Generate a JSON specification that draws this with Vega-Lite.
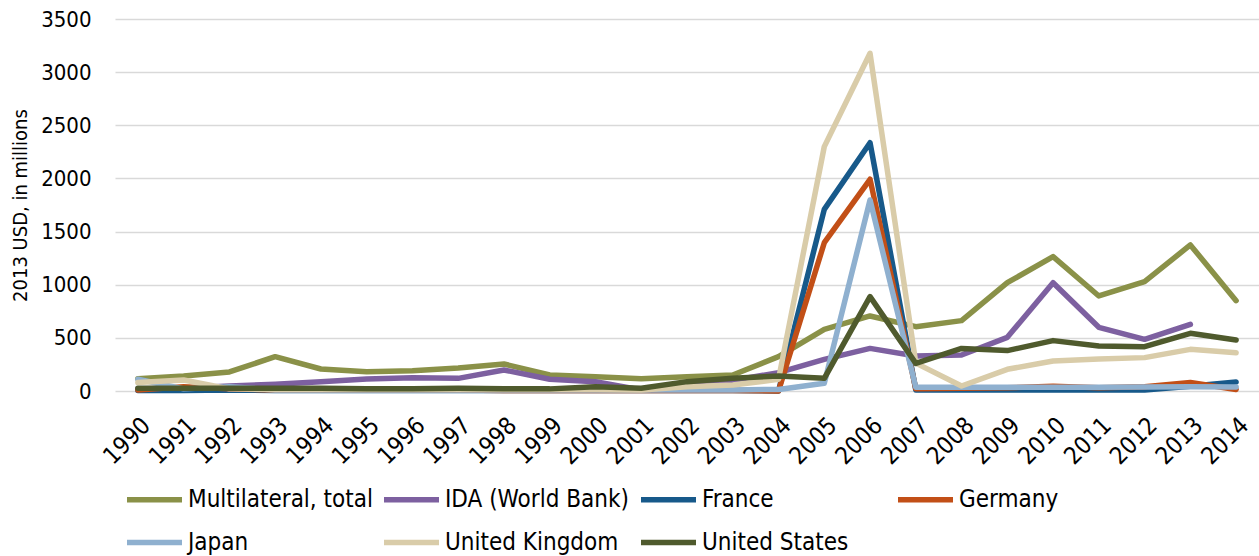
{
  "$schema": "https://vega.github.io/schema/vega-lite/v6.json",
  "autosize": "none",
  "width": 1144,
  "height": 372,
  "padding": {"left": 115, "top": 19, "right": 0, "bottom": 165},
  "background": "white",
  "config": {
    "view": {"stroke": null},
    "font": "DejaVu Sans Condensed"
  },
  "datasets": {
    "aid": [
      {"year": "1990", "series": "Multilateral, total", "value": 116},
      {"year": "1991", "series": "Multilateral, total", "value": 141},
      {"year": "1992", "series": "Multilateral, total", "value": 179},
      {"year": "1993", "series": "Multilateral, total", "value": 323},
      {"year": "1994", "series": "Multilateral, total", "value": 207},
      {"year": "1995", "series": "Multilateral, total", "value": 182},
      {"year": "1996", "series": "Multilateral, total", "value": 191},
      {"year": "1997", "series": "Multilateral, total", "value": 216},
      {"year": "1998", "series": "Multilateral, total", "value": 254},
      {"year": "1999", "series": "Multilateral, total", "value": 151},
      {"year": "2000", "series": "Multilateral, total", "value": 135},
      {"year": "2001", "series": "Multilateral, total", "value": 116},
      {"year": "2002", "series": "Multilateral, total", "value": 135},
      {"year": "2003", "series": "Multilateral, total", "value": 151},
      {"year": "2004", "series": "Multilateral, total", "value": 323},
      {"year": "2005", "series": "Multilateral, total", "value": 580},
      {"year": "2006", "series": "Multilateral, total", "value": 706},
      {"year": "2007", "series": "Multilateral, total", "value": 605},
      {"year": "2008", "series": "Multilateral, total", "value": 662},
      {"year": "2009", "series": "Multilateral, total", "value": 1019},
      {"year": "2010", "series": "Multilateral, total", "value": 1264},
      {"year": "2011", "series": "Multilateral, total", "value": 894},
      {"year": "2012", "series": "Multilateral, total", "value": 1029},
      {"year": "2013", "series": "Multilateral, total", "value": 1374},
      {"year": "2014", "series": "Multilateral, total", "value": 850},

      {"year": "1990", "series": "IDA (World Bank)", "value": 20},
      {"year": "1991", "series": "IDA (World Bank)", "value": 25},
      {"year": "1992", "series": "IDA (World Bank)", "value": 47},
      {"year": "1993", "series": "IDA (World Bank)", "value": 63},
      {"year": "1994", "series": "IDA (World Bank)", "value": 88},
      {"year": "1995", "series": "IDA (World Bank)", "value": 113},
      {"year": "1996", "series": "IDA (World Bank)", "value": 125},
      {"year": "1997", "series": "IDA (World Bank)", "value": 119},
      {"year": "1998", "series": "IDA (World Bank)", "value": 198},
      {"year": "1999", "series": "IDA (World Bank)", "value": 110},
      {"year": "2000", "series": "IDA (World Bank)", "value": 88},
      {"year": "2001", "series": "IDA (World Bank)", "value": 10},
      {"year": "2002", "series": "IDA (World Bank)", "value": 50},
      {"year": "2003", "series": "IDA (World Bank)", "value": 100},
      {"year": "2004", "series": "IDA (World Bank)", "value": 172},
      {"year": "2005", "series": "IDA (World Bank)", "value": 298},
      {"year": "2006", "series": "IDA (World Bank)", "value": 401},
      {"year": "2007", "series": "IDA (World Bank)", "value": 329},
      {"year": "2008", "series": "IDA (World Bank)", "value": 339},
      {"year": "2009", "series": "IDA (World Bank)", "value": 505},
      {"year": "2010", "series": "IDA (World Bank)", "value": 1019},
      {"year": "2011", "series": "IDA (World Bank)", "value": 599},
      {"year": "2012", "series": "IDA (World Bank)", "value": 486},
      {"year": "2013", "series": "IDA (World Bank)", "value": 627},

      {"year": "1990", "series": "France", "value": 5},
      {"year": "1991", "series": "France", "value": 5},
      {"year": "1992", "series": "France", "value": 10},
      {"year": "1993", "series": "France", "value": 5},
      {"year": "1994", "series": "France", "value": 5},
      {"year": "1995", "series": "France", "value": 5},
      {"year": "1996", "series": "France", "value": 5},
      {"year": "1997", "series": "France", "value": 5},
      {"year": "1998", "series": "France", "value": 5},
      {"year": "1999", "series": "France", "value": 5},
      {"year": "2000", "series": "France", "value": 5},
      {"year": "2001", "series": "France", "value": 5},
      {"year": "2002", "series": "France", "value": 5},
      {"year": "2003", "series": "France", "value": 5},
      {"year": "2004", "series": "France", "value": 0},
      {"year": "2005", "series": "France", "value": 1709},
      {"year": "2006", "series": "France", "value": 2336},
      {"year": "2007", "series": "France", "value": 10},
      {"year": "2008", "series": "France", "value": 10},
      {"year": "2009", "series": "France", "value": 10},
      {"year": "2010", "series": "France", "value": 10},
      {"year": "2011", "series": "France", "value": 10},
      {"year": "2012", "series": "France", "value": 10},
      {"year": "2013", "series": "France", "value": 45},
      {"year": "2014", "series": "France", "value": 85},

      {"year": "1990", "series": "Germany", "value": 10},
      {"year": "1991", "series": "Germany", "value": 40},
      {"year": "1992", "series": "Germany", "value": 20},
      {"year": "1993", "series": "Germany", "value": 10},
      {"year": "1994", "series": "Germany", "value": 10},
      {"year": "1995", "series": "Germany", "value": 10},
      {"year": "1996", "series": "Germany", "value": 10},
      {"year": "1997", "series": "Germany", "value": 10},
      {"year": "1998", "series": "Germany", "value": 5},
      {"year": "1999", "series": "Germany", "value": 5},
      {"year": "2000", "series": "Germany", "value": 5},
      {"year": "2001", "series": "Germany", "value": 5},
      {"year": "2002", "series": "Germany", "value": 5},
      {"year": "2003", "series": "Germany", "value": 5},
      {"year": "2004", "series": "Germany", "value": 0},
      {"year": "2005", "series": "Germany", "value": 1395},
      {"year": "2006", "series": "Germany", "value": 1992},
      {"year": "2007", "series": "Germany", "value": 20},
      {"year": "2008", "series": "Germany", "value": 25},
      {"year": "2009", "series": "Germany", "value": 30},
      {"year": "2010", "series": "Germany", "value": 45},
      {"year": "2011", "series": "Germany", "value": 30},
      {"year": "2012", "series": "Germany", "value": 40},
      {"year": "2013", "series": "Germany", "value": 80},
      {"year": "2014", "series": "Germany", "value": 15},

      {"year": "1990", "series": "Japan", "value": 110},
      {"year": "1991", "series": "Japan", "value": 20},
      {"year": "1992", "series": "Japan", "value": 40},
      {"year": "1993", "series": "Japan", "value": 10},
      {"year": "1994", "series": "Japan", "value": 10},
      {"year": "1995", "series": "Japan", "value": 10},
      {"year": "1996", "series": "Japan", "value": 10},
      {"year": "1997", "series": "Japan", "value": 10},
      {"year": "1998", "series": "Japan", "value": 10},
      {"year": "1999", "series": "Japan", "value": 10},
      {"year": "2000", "series": "Japan", "value": 10},
      {"year": "2001", "series": "Japan", "value": 10},
      {"year": "2002", "series": "Japan", "value": 10},
      {"year": "2003", "series": "Japan", "value": 10},
      {"year": "2004", "series": "Japan", "value": 15},
      {"year": "2005", "series": "Japan", "value": 72},
      {"year": "2006", "series": "Japan", "value": 1797},
      {"year": "2007", "series": "Japan", "value": 35},
      {"year": "2008", "series": "Japan", "value": 35},
      {"year": "2009", "series": "Japan", "value": 35},
      {"year": "2010", "series": "Japan", "value": 35},
      {"year": "2011", "series": "Japan", "value": 35},
      {"year": "2012", "series": "Japan", "value": 38},
      {"year": "2013", "series": "Japan", "value": 40},
      {"year": "2014", "series": "Japan", "value": 38},

      {"year": "1990", "series": "United Kingdom", "value": 80},
      {"year": "1991", "series": "United Kingdom", "value": 103},
      {"year": "1992", "series": "United Kingdom", "value": 20},
      {"year": "1993", "series": "United Kingdom", "value": 15},
      {"year": "1994", "series": "United Kingdom", "value": 15},
      {"year": "1995", "series": "United Kingdom", "value": 15},
      {"year": "1996", "series": "United Kingdom", "value": 15},
      {"year": "1997", "series": "United Kingdom", "value": 15},
      {"year": "1998", "series": "United Kingdom", "value": 15},
      {"year": "1999", "series": "United Kingdom", "value": 15},
      {"year": "2000", "series": "United Kingdom", "value": 15},
      {"year": "2001", "series": "United Kingdom", "value": 10},
      {"year": "2002", "series": "United Kingdom", "value": 40},
      {"year": "2003", "series": "United Kingdom", "value": 56},
      {"year": "2004", "series": "United Kingdom", "value": 110},
      {"year": "2005", "series": "United Kingdom", "value": 2299},
      {"year": "2006", "series": "United Kingdom", "value": 3177},
      {"year": "2007", "series": "United Kingdom", "value": 262},
      {"year": "2008", "series": "United Kingdom", "value": 47},
      {"year": "2009", "series": "United Kingdom", "value": 204},
      {"year": "2010", "series": "United Kingdom", "value": 282},
      {"year": "2011", "series": "United Kingdom", "value": 301},
      {"year": "2012", "series": "United Kingdom", "value": 314},
      {"year": "2013", "series": "United Kingdom", "value": 392},
      {"year": "2014", "series": "United Kingdom", "value": 360},

      {"year": "1990", "series": "United States", "value": 25},
      {"year": "1991", "series": "United States", "value": 25},
      {"year": "1992", "series": "United States", "value": 25},
      {"year": "1993", "series": "United States", "value": 25},
      {"year": "1994", "series": "United States", "value": 25},
      {"year": "1995", "series": "United States", "value": 22},
      {"year": "1996", "series": "United States", "value": 22},
      {"year": "1997", "series": "United States", "value": 25},
      {"year": "1998", "series": "United States", "value": 20},
      {"year": "1999", "series": "United States", "value": 20},
      {"year": "2000", "series": "United States", "value": 40},
      {"year": "2001", "series": "United States", "value": 25},
      {"year": "2002", "series": "United States", "value": 88},
      {"year": "2003", "series": "United States", "value": 119},
      {"year": "2004", "series": "United States", "value": 141},
      {"year": "2005", "series": "United States", "value": 119},
      {"year": "2006", "series": "United States", "value": 888},
      {"year": "2007", "series": "United States", "value": 260},
      {"year": "2008", "series": "United States", "value": 401},
      {"year": "2009", "series": "United States", "value": 380},
      {"year": "2010", "series": "United States", "value": 474},
      {"year": "2011", "series": "United States", "value": 423},
      {"year": "2012", "series": "United States", "value": 417},
      {"year": "2013", "series": "United States", "value": 543},
      {"year": "2014", "series": "United States", "value": 480}
    ]
  },
  "data": {"name": "aid"},
  "mark": {"type": "line", "strokeWidth": 5.5, "strokeJoin": "round", "strokeCap": "round"},
  "encoding": {
    "x": {
      "field": "year",
      "type": "ordinal",
      "scale": {"type": "point", "padding": 0.5},
      "axis": {
        "title": null,
        "domain": false,
        "ticks": false,
        "grid": false,
        "labelAngle": -45,
        "labelFontSize": 24,
        "labelColor": "#000000",
        "labelPadding": 22
      }
    },
    "y": {
      "field": "value",
      "type": "quantitative",
      "scale": {"domain": [0, 3500], "nice": false},
      "axis": {
        "title": "2013 USD, in millions",
        "titleFontSize": 20,
        "titleFontWeight": "normal",
        "titleColor": "#000000",
        "titlePadding": 10,
        "values": [0, 500, 1000, 1500, 2000, 2500, 3000, 3500],
        "format": "d",
        "domain": false,
        "ticks": false,
        "labelFontSize": 22,
        "labelColor": "#000000",
        "labelPadding": 24,
        "gridColor": "#D9D9D9",
        "gridWidth": 1.5
      }
    },
    "color": {
      "field": "series",
      "type": "nominal",
      "scale": {
        "domain": ["Multilateral, total", "IDA (World Bank)", "France", "Germany", "Japan", "United Kingdom", "United States"],
        "range": ["#8A9148", "#7D60A0", "#17598A", "#C24F17", "#8FB0CF", "#D9CCA9", "#4F5A2D"]
      },
      "legend": {
        "title": null,
        "orient": "none",
        "legendX": 9,
        "legendY": 450,
        "direction": "horizontal",
        "columns": 4,
        "gridAlign": "all",
        "symbolType": "stroke",
        "symbolSize": 3025,
        "symbolStrokeWidth": 5.5,
        "labelFontSize": 24,
        "labelColor": "#000000",
        "labelOffset": 3,
        "labelLimit": 400,
        "columnPadding": 0,
        "rowPadding": -10
      }
    }
  }
}
